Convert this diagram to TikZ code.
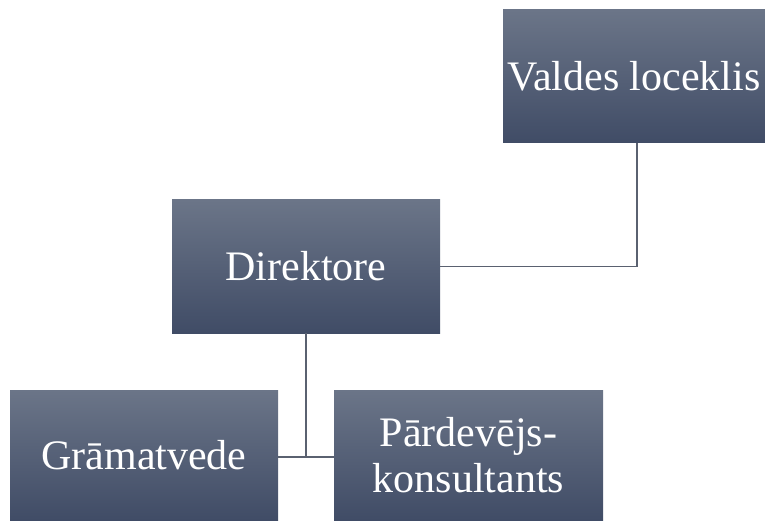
\documentclass[tikz,border=0pt]{standalone}
\usepackage{fontspec}
\setmainfont{Liberation Serif}
\begin{document}
\begin{tikzpicture}[x=1pt,y=-1pt,
  orgbox/.style={rectangle, draw=none, top color=boxtop, bottom color=boxbottom,
    text=white, align=center, inner sep=0pt,
    font=\rmfamily\fontsize{42}{46}\selectfont},
  link/.style={draw=linegray, line width=1.1pt}]
\definecolor{boxtop}{HTML}{6B7588}
\definecolor{boxbottom}{HTML}{404C66}
\definecolor{linegray}{HTML}{5A6170}
\useasboundingbox (0,0) rectangle (765,521);
% boxes
\node[orgbox, minimum width=262pt, minimum height=133pt] (V) at (634,76.5) {Valdes loceklis};
\node[orgbox, minimum width=268pt, minimum height=133pt] (D) at (306,266.5) {Direktore};
\node[orgbox, minimum width=268pt, minimum height=130pt] (G) at (144,455) {Grāmatvede};
\node[orgbox, minimum width=269pt, minimum height=130pt] (P) at (468.5,455) {Pārdevējs-\\konsultants};
% connectors
\coordinate (J) at (306,457);
\draw[link] ([xshift=3pt]V.south) |- (D.east);
\draw[link] (D.south) -- (J);
\draw[link] (G.east |- J) -- (P.west |- J);
\end{tikzpicture}
\end{document}
